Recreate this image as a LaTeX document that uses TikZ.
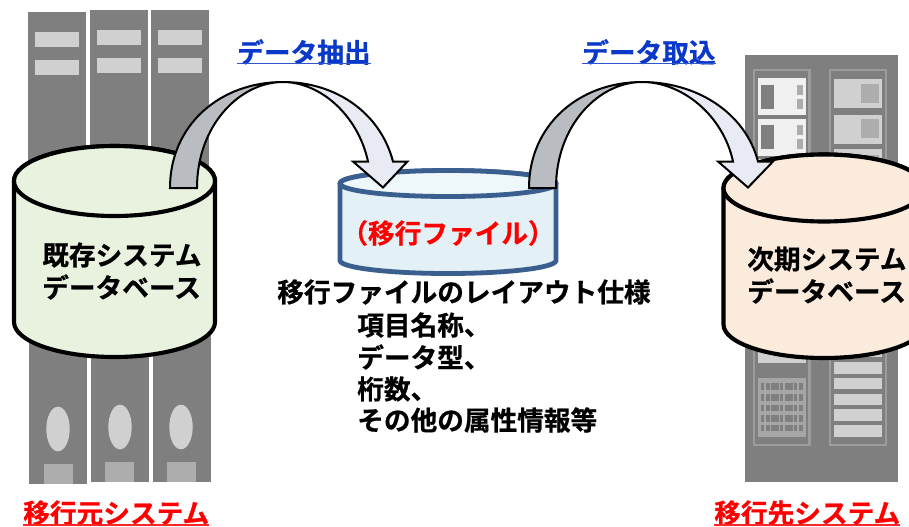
\documentclass[tikz,border=0pt]{standalone}
\usepackage{fontspec}
\newfontfamily\jpb[FakeBold=0.7]{Noto Sans CJK JP Bold}
\definecolor{rack}{HTML}{7F7F7F}
\definecolor{lite}{HTML}{D0D0D0}
\definecolor{mid}{HTML}{ADADAD}
\definecolor{panelline}{HTML}{9C9C9C}
\definecolor{whitish}{HTML}{F0F0F0}
\definecolor{gridbg}{HTML}{A6A6A6}
\definecolor{cylgreen}{HTML}{E9F1DF}
\definecolor{cylorange}{HTML}{FAEBDD}
\definecolor{cylblue}{HTML}{E3F0F5}
\definecolor{cylbluetop}{HTML}{EEF7FA}
\definecolor{cylline}{HTML}{3A5F8F}
\definecolor{arrdark}{HTML}{B9BCC1}
\definecolor{arrlight}{HTML}{E8EBF3}
\definecolor{linkblue}{HTML}{0A38C8}
\tikzset{
  x=0.75pt,y=-0.75pt,
  txt/.style={inner sep=0pt,anchor=west,font=\jpb\fontsize{20pt}{22pt}\selectfont},
  bluelab/.style={txt,text=linkblue},
  redlab/.style={txt,text=red},
  ulblue/.style={draw=linkblue!85!white,line width=1.4pt},
  ulred/.style={draw=red!85!white,line width=1.4pt},
  arrowpart/.style={draw=black,line width=1.5pt,line join=miter},
}
\newcommand{\blk}[5]{\fill[#5] (#1,#2) rectangle (#3,#4);}
\newcommand{\cyl}[9]{%
% cx, ytop, ybottom, rx, ry, fill, top fill, line, width
\path[fill=#6,draw=#8,line width=#9,line join=round]
  (#1-#4,#2) -- (#1-#4,#3) arc[start angle=180,end angle=0,x radius=#4,y radius=#5]
  -- (#1+#4,#2) arc[start angle=0,end angle=-180,x radius=#4,y radius=#5] -- cycle;
\path[fill=#7,draw=#8,line width=#9] (#1,#2) ellipse[x radius=#4,y radius=#5];}
\begin{document}
\begin{tikzpicture}
\clip (0,0) rectangle (909,526);
\fill[white] (0,0) rectangle (909,526);
% left racks
\blk{28}{12}{86}{300}{rack}
\blk{29}{300}{87}{484}{rack}
\blk{90}{10}{148}{300}{rack}
\blk{91}{300}{149}{482}{rack}
\blk{151}{10}{209}{300}{rack}
\blk{153}{300}{211}{482}{rack}
\blk{35}{32}{79}{47}{lite}
\blk{35}{60}{79}{75}{lite}
\blk{97}{30}{141}{45}{lite}
\blk{97}{58}{141}{73}{lite}
\blk{158}{30}{202}{45}{lite}
\blk{158}{58}{202}{73}{lite}
\fill[lite] (58,429) ellipse[x radius=11.7,y radius=22.3];
\fill[lite] (120,427) ellipse[x radius=11.7,y radius=22.3];
\fill[lite] (181,427) ellipse[x radius=11.7,y radius=22.3];
\blk{44}{464}{73}{484}{mid}
\blk{105}{462}{134}{482}{mid}
\blk{167}{462}{196}{482}{mid}
% right rack
\blk{745}{55}{898}{482}{rack}
\draw[panelline,line width=1.9pt] (754,70) rectangle (809.5,445);
\draw[panelline,line width=1.9pt] (830,70) rectangle (886,445);
\blk{758}{78}{806}{115}{whitish}
\blk{758}{119}{806}{156}{whitish}
\blk{758}{159}{806}{200}{whitish}
\blk{758}{340}{806}{363}{lite}
\foreach \yy in {0,40}{
  \blk{761}{85+\yy}{774}{109+\yy}{rack}
  \blk{797}{85+\yy}{803}{95+\yy}{mid}
  \blk{797}{99+\yy}{803}{109+\yy}{mid}
}
\blk{834}{79}{882}{108}{lite}
\blk{834}{115}{882}{144}{lite}
\blk{834}{149}{882}{178}{lite}
\blk{861}{84}{879}{103}{mid}
\blk{861}{119}{879}{138}{mid}
\blk{861}{155}{879}{174}{mid}
\blk{834}{346}{882}{357}{lite}
\blk{834}{362}{882}{374}{lite}
\blk{834}{378}{882}{389}{lite}
\blk{834}{394}{882}{405}{lite}
\blk{834}{409}{882}{421}{lite}
\blk{834}{425}{882}{437}{lite}
\blk{758}{378}{806}{437}{gridbg}
\foreach \ya/\yb in {383/390,394/401,405/411,415/422,425/431}{
  \foreach \xa/\xb in {760.7/764,766/770,771.3/778.7,780/783.3,785.3/788.7,789.3/792.7,794/797.3,799.3/802.7}{
    \blk{\xa}{\ya}{\xb}{\yb}{rack}
  }
}
% cylinders
\cyl{114.5}{181}{322}{100.5}{35}{cylgreen}{cylgreen}{black}{3.1pt}
\cyl{448}{183.5}{260.5}{108}{13}{cylblue}{cylbluetop}{cylline}{3.6pt}
\cyl{824}{188}{324.5}{100.5}{33.5}{cylorange}{cylorange}{black}{3.1pt}
% arrow 1
\path[arrowpart,fill=arrdark] (170,188) .. controls (170,125) and (220,82) .. (283,82)
  .. controls (240,82) and (197,125) .. (197,188) -- cycle;
\path[arrowpart,fill=arrlight] (283,82) .. controls (335,82) and (380,112) .. (393,161.5)
  -- (407.5,161.5) -- (383,187.5) -- (353,161.5) -- (368,161.5)
  .. controls (358,115) and (320,82) .. (283,82) -- cycle;
% arrow 2
\path[arrowpart,fill=arrdark] (529,188) .. controls (529,125) and (579,82) .. (642,82)
  .. controls (599,82) and (556,125) .. (556,188) -- cycle;
\path[arrowpart,fill=arrlight] (642,82) .. controls (696,82) and (745,112) .. (758,161.5)
  -- (773,161.5) -- (748,187.5) -- (718,161.5) -- (733,161.5)
  .. controls (723,115) and (682,82) .. (642,82) -- cycle;
% texts
\node[txt] (t1) at (42,255) {既存システム};
\node[txt] (t2) at (42,287) {データベース};
\node[txt] (t3) at (747,259) {次期システム};
\node[txt] (t4) at (747,291) {データベース};
\node[redlab,anchor=center] (t5) at (448,233) {（移行ファイル）};
\node[txt] (t6) at (277,292) {移行ファイルのレイアウト仕様};
\node[txt] (t7) at (357,325) {項目名称、};
\node[txt] (t8) at (357,357) {データ型、};
\node[txt] (t9) at (357,389) {桁数、};
\node[txt] (t10) at (357,420) {その他の属性情報等};
\node[bluelab] (l1) at (237,52) {データ抽出};
\node[bluelab] (l2) at (582,52) {データ取込};
\node[redlab] (l3) at (23,513) {移行元システム};
\node[redlab] (l4) at (714,513) {移行先システム};
\draw[ulblue] (l1.west |- 0,63.5) -- (l1.east |- 0,63.5);
\draw[ulblue] (l2.west |- 0,63.5) -- (l2.east |- 0,63.5);
\draw[ulred] (l3.west |- 0,525) -- (l3.east |- 0,525);
\draw[ulred] (l4.west |- 0,525) -- (l4.east |- 0,525);
\end{tikzpicture}
\end{document}
